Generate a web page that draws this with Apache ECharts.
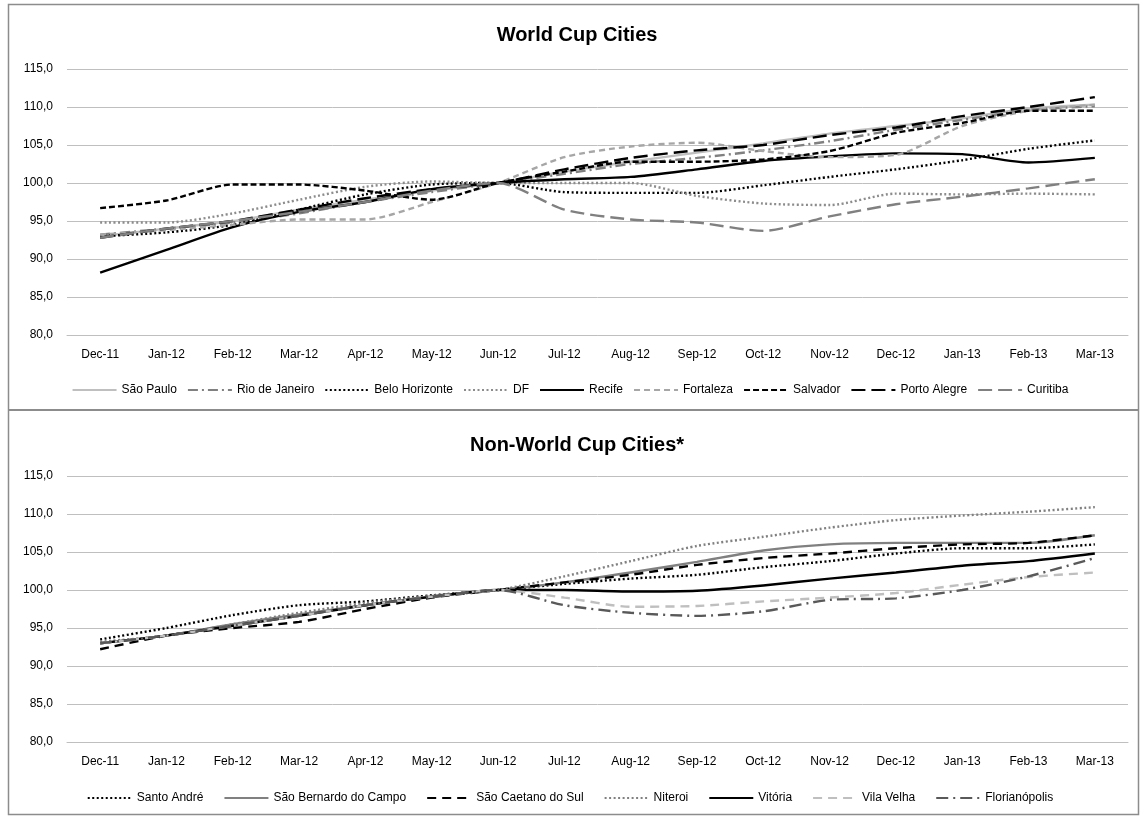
<!DOCTYPE html>
<html><head><meta charset="utf-8">
<script src="https://cdn.jsdelivr.net/npm/echarts@6/dist/echarts.min.js"></script>
<style>html,body{margin:0;padding:0;background:#fff}#c{width:1140px;height:816px}</style>
</head><body><div id="c"></div>
<script>
const months = ['Dec-11','Jan-12','Feb-12','Mar-12','Apr-12','May-12','Jun-12','Jul-12','Aug-12','Sep-12','Oct-12','Nov-12','Dec-12','Jan-13','Feb-13','Mar-13'];
const yTicks = [80,85,90,95,100,105,110,115];

// World Cup cities
const saoPaulo     = [93.0,94.0,95.0,96.5,97.8,99.0,100,101.5,102.8,104.0,105.2,106.5,107.5,108.5,109.8,110.3];
const rioDeJaneiro = [93.2,94.0,94.8,96.0,97.5,98.8,100,101.2,102.5,103.3,104.3,105.5,107.0,108.3,109.6,110.1];
const beloHorizonte= [93.0,93.5,94.5,96.5,98.5,99.8,100,98.8,98.7,98.7,99.7,100.8,101.8,103.0,104.5,105.6];
const df           = [94.8,94.8,96.0,97.8,99.5,100.2,100,100.0,100.0,98.3,97.3,97.1,98.6,98.5,98.6,98.5];
const recife       = [88.2,91.2,94.2,96.2,97.5,99.2,100,100.5,100.8,101.8,102.9,103.5,103.9,103.8,102.7,103.3];
const fortaleza    = [93.2,93.8,94.5,95.2,95.2,97.5,100,103.4,104.8,105.3,104.2,103.4,103.7,107.5,109.5,110.3];
const salvador     = [96.7,97.7,99.8,99.8,99.0,97.8,100,101.5,102.8,102.8,103.1,104.2,106.6,107.9,109.5,109.5];
const portoAlegre  = [92.8,94.0,95.0,96.5,98.0,99.2,100,101.8,103.3,104.3,105.0,106.3,107.3,108.8,110.0,111.3];
const curitiba     = [92.8,94.0,95.0,96.2,97.5,99.0,100,96.5,95.2,94.8,93.7,95.6,97.2,98.2,99.3,100.5];

// Non-World Cup cities
const santoAndre   = [93.5,95.0,96.7,98.0,98.5,99.3,100,100.8,101.5,102.0,103.0,103.8,104.8,105.5,105.5,106.0];
const saoBernardo  = [93.0,94.0,95.5,96.8,98.0,99.2,100,101.0,102.3,103.7,105.2,106.0,106.2,106.2,106.2,107.2];
const saoCaetano   = [92.2,94.0,95.0,95.8,97.5,99.0,100,101.0,102.0,103.3,104.2,104.8,105.5,106.0,106.2,107.2];
const niteroi      = [93.2,94.0,95.5,97.0,98.3,99.2,100,101.8,103.8,105.8,107.0,108.2,109.2,109.8,110.3,110.9];
const vitoria      = [93.0,94.0,95.3,96.6,98.0,99.1,100,100.0,99.8,99.9,100.6,101.5,102.3,103.2,103.8,104.8];
const vilaVelha    = [93.0,94.0,95.3,96.6,98.0,99.1,100,99.0,97.8,97.9,98.5,99.0,99.6,100.7,101.7,102.3];
const florianopolis= [93.0,94.0,95.3,96.6,98.0,99.1,100,98.0,97.0,96.6,97.2,98.7,98.9,100.0,101.8,104.2];

const topSeries = [
  ['São Paulo', saoPaulo, '#bfbfbf', 'solid'],
  ['Rio de Janeiro', rioDeJaneiro, '#808080', [10,4,2,4]],
  ['Belo Horizonte', beloHorizonte, '#000000', [2,2.5]],
  ['DF', df, '#8c8c8c', [2,2.5]],
  ['Recife', recife, '#000000', 'solid'],
  ['Fortaleza', fortaleza, '#a6a6a6', [6,4]],
  ['Salvador', salvador, '#000000', [6,3]],
  ['Porto Alegre', portoAlegre, '#000000', [14,6]],
  ['Curitiba', curitiba, '#808080', [14,6]]
];
const botSeries = [
  ['Santo André', santoAndre, '#000000', [2,2.5]],
  ['São Bernardo do Campo', saoBernardo, '#808080', 'solid'],
  ['São Caetano do Sul', saoCaetano, '#000000', [9,6]],
  ['Niteroi', niteroi, '#808080', [2,2.5]],
  ['Vitória', vitoria, '#000000', 'solid'],
  ['Vila Velha', vilaVelha, '#bfbfbf', [9,6]],
  ['Florianópolis', florianopolis, '#595959', [12,5,2,5]]
];

const font = 'Liberation Sans';
const fmt = v => v.toFixed(1).replace('.', ',');
function xAxis(gi){return {type:'category',gridIndex:gi,data:months,boundaryGap:true,
  axisLine:{show:true,lineStyle:{color:'#bfbfbf'}},axisTick:{show:false},
  axisLabel:{color:'#000',fontFamily:font,fontSize:12,margin:14}};}
function yAxis(gi){return {type:'value',gridIndex:gi,min:yTicks[0],max:yTicks[yTicks.length-1],interval:5,
  axisLine:{show:false},axisTick:{show:false},
  splitLine:{lineStyle:{color:'#bfbfbf',width:1}},
  axisLabel:{color:'#000',fontFamily:font,fontSize:12,margin:14,formatter:fmt}};}
function mk(s,gi){return {name:s[0],type:'line',xAxisIndex:gi,yAxisIndex:gi,data:s[1],symbol:'none',
  smooth:0.25,lineStyle:{color:s[2],type:s[3],width:2.4},itemStyle:{color:s[2]}};}

const legendCommon = {itemWidth:44,itemHeight:10,itemStyle:{opacity:0},
  textStyle:{fontFamily:font,fontSize:12,color:'#000'}};
const chart = echarts.init(document.getElementById('c'),null,{renderer:'canvas'});
chart.setOption({
  animation:false,
  backgroundColor:'#fff',
  title:[
    {text:'World Cup Cities',left:572,top:20,textAlign:'center',textStyle:{fontFamily:font,fontSize:20,fontWeight:'bold',color:'#000'}},
    {text:'Non-World Cup Cities*',left:572,top:430,textAlign:'center',textStyle:{fontFamily:font,fontSize:20,fontWeight:'bold',color:'#000'}}
  ],
  grid:[
    {left:67,right:12,top:69,height:266},
    {left:67,right:12,top:476,height:266}
  ],
  legend:[
    Object.assign({data:topSeries.map(s=>s[0]),top:379,left:'center',itemGap:10},legendCommon),
    Object.assign({data:botSeries.map(s=>s[0]),top:787,left:'center',itemGap:20},legendCommon)
  ],
  xAxis:[xAxis(0),xAxis(1)],
  yAxis:[yAxis(0),yAxis(1)],
  series:[...topSeries.map(s=>mk(s,0)),...botSeries.map(s=>mk(s,1))],
  graphic:[
    {type:'rect',shape:{x:8.5,y:4.5,width:1130,height:810},style:{fill:null,stroke:'#8c8c8c',lineWidth:1.5},silent:true},
    {type:'line',shape:{x1:8,y1:410,x2:1138,y2:410},style:{stroke:'#8c8c8c',lineWidth:2},silent:true}
  ]
});
</script></body></html>
